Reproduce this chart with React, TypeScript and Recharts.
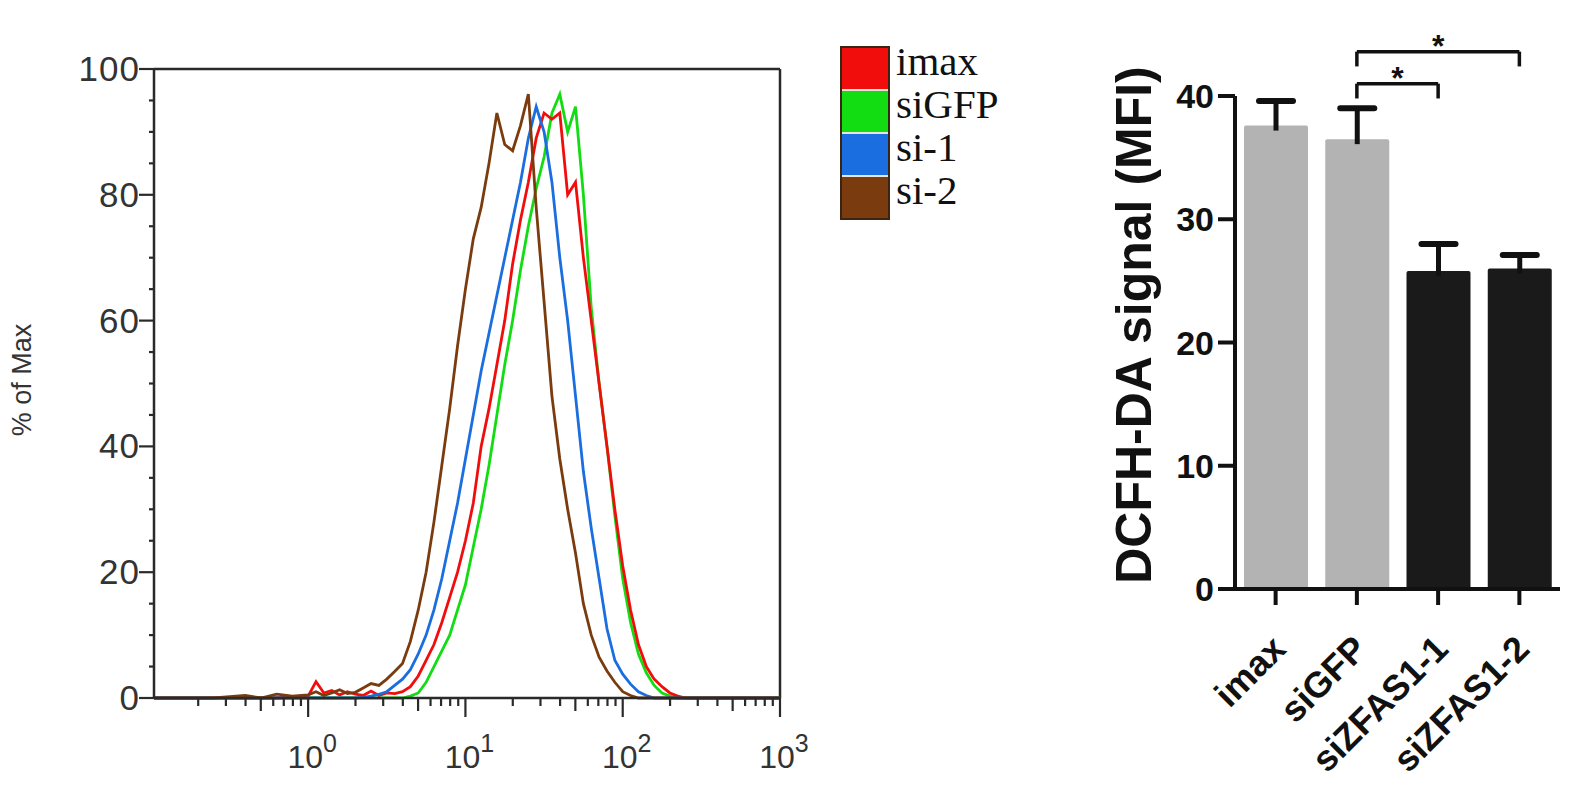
import React from "react";
import {
  Bar,
  BarChart,
  Cell,
  Legend,
  Line,
  LineChart,
  ReferenceLine,
  XAxis,
  YAxis,
} from "recharts";

// ---- flow cytometry histogram (log10 of fluorescence vs % of max) ----
const logBins = [
  -0.98, -0.6, -0.4, -0.3, -0.2, -0.1, 0.0, 0.05, 0.1, 0.15, 0.2, 0.25,
  0.3, 0.35, 0.4, 0.45, 0.5, 0.55, 0.6, 0.65, 0.7, 0.75,
  0.8, 0.85, 0.9, 0.95, 1.0, 1.05, 1.1, 1.15, 1.2, 1.25,
  1.3, 1.35, 1.4, 1.45, 1.5, 1.55, 1.6, 1.65, 1.7, 1.75,
  1.8, 1.85, 1.9, 1.95, 2.0, 2.05, 2.1, 2.15, 2.2, 2.25,
  2.3, 2.35, 2.4, 2.45, 2.5, 2.6, 2.8, 3.0,
];

const imaxHist = [
  0, 0, 0, 0, 0, 0.2, 0.3, 2.6, 0.8, 1.2, 0.5, 1.0,
  0.6, 0.4, 1.1, 0.4, 0.8, 0.7, 1.0, 1.8, 3.5, 6,
  8.5, 12, 16, 20, 25, 31, 40, 46, 53, 60,
  69, 76, 82, 89, 93, 92, 93, 80, 82, 70,
  60, 50, 40, 30, 21, 14, 8.5, 5, 3, 1.8,
  0.8, 0.3, 0, 0, 0, 0, 0, 0,
];

const siGfpHist = [
  0, 0, 0, 0, 0, 0, 0, 0, 0, 0, 0, 0,
  0, 0, 0, 0, 0, 0, 0, 0.3, 0.8, 2.5,
  5, 7.5, 10, 14, 18, 24, 30, 37, 45, 53,
  60, 68, 75, 81, 86, 93, 96, 90, 94, 80,
  62, 50, 40, 29, 19, 12, 7, 4, 2, 0.8,
  0.3, 0, 0, 0, 0, 0, 0, 0,
];

const si1Hist = [
  0, 0, 0, 0, 0, 0, 0, 0, 0, 0, 0, 0,
  0, 0.1, 0.3, 0.6, 1, 2, 3, 4.5, 7, 10,
  14, 19, 25, 31, 38, 45, 52, 58, 64, 70,
  76, 82, 89, 94, 90, 82, 70, 60, 48, 36,
  27, 19, 11, 6, 3.8, 2.2, 1.0, 0.4, 0, 0,
  0, 0, 0, 0, 0, 0, 0, 0,
];

const si2Hist = [
  0, 0, 0.4, 0, 0.6, 0.3, 0.5, 1.0, 0.4, 0.8, 1.3, 0.7,
  0.9, 1.6, 2.3, 2.0, 3.0, 4.2, 5.5, 9, 14, 20,
  28, 37, 46, 56, 65, 73, 78, 85, 93, 88,
  87, 91, 96, 78, 63, 48, 38, 30, 23, 15,
  10, 6.5, 4.3, 2.5, 1.0, 0.4, 0, 0, 0, 0,
  0, 0, 0, 0, 0, 0, 0, 0,
];

const histNames = ["imax", "siGFP", "si-1", "si-2"];
const decadeExponents = [0, 1, 2, 3];
const minorMultipliers = [2, 3, 4, 5, 6, 7, 8, 9];
const pctTicks = [0, 5, 10, 15, 20, 25, 30, 35, 40, 45, 50, 55, 60, 65, 70, 75, 80, 85, 90, 95, 100];

// ---- DCFH-DA bar chart ----
const groups = ["imax", "siGFP", "siZFAS1-1", "siZFAS1-2"];
const mfiMean = [37.6, 36.5, 25.8, 26.0];
const mfiSem = [2.0, 2.5, 2.2, 1.1];
const mfiTicks = [0, 10, 20, 30, 40];
const comparisons = [
  { from: "siGFP", to: "siZFAS1-1", level: 41.0, mark: "*" },
  { from: "siGFP", to: "siZFAS1-2", level: 43.6, mark: "*" },
];

const histColors = {
  imax: "#f20d0d",
  siGFP: "#12dc12",
  "si-1": "#1a6ee0",
  "si-2": "#7a3c0e",
};
const drawOrder = ["siGFP", "imax", "si-1", "si-2"];

const histValues = [imaxHist, siGfpHist, si1Hist, si2Hist];
const histData = logBins.map((lx, i) => {
  const row: Record<string, number> = { lx };
  histNames.forEach((n, k) => (row[n] = histValues[k][i]));
  return row;
});

const logTicks: number[] = [];
[-1, 0, 1, 2].forEach((d) => {
  minorMultipliers.forEach((m) => logTicks.push(d + Math.log10(m)));
});
decadeExponents.forEach((d) => logTicks.push(d));
const xTicks = logTicks.filter((t) => t >= -0.98).sort((a, b) => a - b);

const barData = groups.map((g, i) => ({ group: g, mean: mfiMean[i], sem: mfiSem[i] }));

const AXIS = "#2a2a2a";

function LogTick(props: any) {
  const { x, y, payload } = props;
  const v = payload.value;
  const dec = Math.round(v);
  const major = Math.abs(v - dec) < 1e-6;
  const frac = v - Math.floor(v + 1e-9);
  const isFive = Math.abs(frac - Math.log10(5)) < 1e-6;
  const len = major ? 19 : isFive ? 13 : 8;
  return (
    <g>
      <line x1={x} x2={x} y1={y} y2={y + len} stroke={AXIS} strokeWidth={2.2} />
      {major && decadeExponents.includes(dec) && (
        <text x={x + 4} y={y + 70} textAnchor="middle" fill="#333" fontSize={32}>
          10
          <tspan fontSize={25} dy={-16}>
            {dec}
          </tspan>
        </text>
      )}
    </g>
  );
}

function PctTick(props: any) {
  const { x, y, payload } = props;
  const v = payload.value;
  const major = v % 20 === 0;
  return (
    <g>
      <line x1={x - (major ? 15 : 5)} x2={x} y1={y} y2={y} stroke={AXIS} strokeWidth={2.2} />
      {major && (
        <text x={x - 14} y={y + 12} textAnchor="end" fill="#333" fontSize={35} letterSpacing={1}>
          {v}
        </text>
      )}
    </g>
  );
}

function HistLegend() {
  return (
    <div style={{ position: "relative", width: 220, height: 180 }}>
      <div
        style={{
          position: "absolute",
          left: 0,
          top: 0,
          width: 46,
          border: "2px solid #3b2412",
          background: "#e8e4d8",
        }}
      >
        {histNames.map((n, i) => (
          <div
            key={n}
            style={{
              height: 41,
              marginTop: i === 0 ? 0 : 2,
              background: histColors[n as keyof typeof histColors],
            }}
          />
        ))}
      </div>
      {histNames.map((n, i) => (
        <div
          key={n}
          style={{
            position: "absolute",
            left: 56,
            top: i * 43 - 6,
            height: 43,
            lineHeight: "43px",
            fontFamily: "'Liberation Serif', 'Times New Roman', serif",
            fontSize: 41,
            color: "#111",
            whiteSpace: "nowrap",
          }}
        >
          {n}
        </div>
      ))}
    </div>
  );
}

function BarWithError(props: any) {
  const { x, y, width, height, payload, fill } = props;
  const perUnit = height / payload.mean;
  const top = y - payload.sem * perUnit;
  const cx = x + width / 2;
  return (
    <g>
      <rect x={x} y={y} width={width} height={height} fill={fill} rx={2} />
      <line x1={cx} x2={cx} y1={y + 5} y2={top} stroke="#111" strokeWidth={5} />
      <line x1={cx - 17} x2={cx + 17} y1={top} y2={top} stroke="#111" strokeWidth={6} strokeLinecap="round" />
    </g>
  );
}

function GroupTick(props: any) {
  const { x, y, payload } = props;
  const ax = x + 12;
  const ay = y + 44;
  return (
    <text
      x={ax}
      y={ay}
      transform={`rotate(-45, ${ax}, ${ay})`}
      textAnchor="end"
      fontSize={36}
      fontWeight="bold"
      fill="#111"
    >
      {payload.value}
    </text>
  );
}

function StarLabel(props: any) {
  const { viewBox, value } = props;
  return (
    <text
      x={viewBox.x + viewBox.width / 2}
      y={viewBox.y + 5}
      textAnchor="middle"
      fontSize={32}
      fontWeight="bold"
      fill="#111"
    >
      {value}
    </text>
  );
}

export default function App() {
  return (
    <div
      style={{
        position: "absolute",
        left: 0,
        top: 0,
        width: 1594,
        height: 804,
        background: "#fff",
        fontFamily: "'Liberation Sans', Arial, sans-serif",
      }}
    >
      <div style={{ position: "absolute", left: 0, top: 0 }}>
        <LineChart
          width={1050}
          height={804}
          data={histData}
          margin={{ top: 69, right: 270, bottom: 76, left: 94 }}
        >
          <XAxis
            type="number"
            dataKey="lx"
            domain={[-0.98, 3]}
            ticks={xTicks}
            interval={0}
            tickSize={0}
            tickMargin={0}
            tick={<LogTick />}
            axisLine={{ stroke: AXIS, strokeWidth: 2.5 }}
            height={30}
            allowDataOverflow
          />
          <YAxis
            type="number"
            domain={[0, 100]}
            ticks={pctTicks}
            interval={0}
            tickSize={0}
            tickMargin={0}
            tick={<PctTick />}
            axisLine={{ stroke: AXIS, strokeWidth: 2.5 }}
            width={60}
            label={{
              content: () => (
                <text
                  x={31}
                  y={380}
                  transform="rotate(-90, 31, 380)"
                  textAnchor="middle"
                  fontSize={27}
                  fill="#333"
                >
                  % of Max
                </text>
              ),
            }}
          />
          <ReferenceLine y={100} stroke={AXIS} strokeWidth={2.5} />
          <ReferenceLine x={3} stroke={AXIS} strokeWidth={2.5} />
          {drawOrder.map((n) => (
            <Line
              key={n}
              type="linear"
              dataKey={n}
              stroke={histColors[n as keyof typeof histColors]}
              strokeWidth={2.8}
              dot={false}
              activeDot={false}
              isAnimationActive={false}
            />
          ))}
          <Legend
            layout="vertical"
            align="center"
            verticalAlign="middle"
            wrapperStyle={{ position: "absolute", left: 840, top: 46, width: 220, height: 180 }}
            content={() => <HistLegend />}
          />
        </LineChart>
      </div>

      <div style={{ position: "absolute", left: 1050, top: 0 }}>
        <BarChart
          width={544}
          height={804}
          data={barData}
          margin={{ top: 96, right: 34, bottom: 185, left: 105 }}
        >
          <XAxis
            dataKey="group"
            tickSize={16}
            tickMargin={2}
            interval={0}
            tickLine={{ stroke: "#111", strokeWidth: 4 }}
            axisLine={{ stroke: "#111", strokeWidth: 4 }}
            tick={<GroupTick />}
            height={30}
          />
          <YAxis
            domain={[0, 40]}
            ticks={mfiTicks}
            interval={0}
            tickSize={17}
            tickMargin={4}
            tickLine={{ stroke: "#111", strokeWidth: 4 }}
            axisLine={{ stroke: "#111", strokeWidth: 4 }}
            tick={{ fontSize: 34, fontWeight: "bold", fill: "#111" }}
            width={80}
            label={{
              content: () => (
                <text
                  x={101}
                  y={325}
                  transform="rotate(-90, 101, 325)"
                  textAnchor="middle"
                  fontSize={50}
                  fontWeight="bold"
                  fill="#111"
                >
                  DCFH-DA signal (MFI)
                </text>
              ),
            }}
          />
          <Bar dataKey="mean" barSize={64} shape={<BarWithError />} isAnimationActive={false}>
            {barData.map((d, i) => (
              <Cell key={d.group} fill={i < 2 ? "#b3b3b3" : "#1a1a1a"} />
            ))}
          </Bar>
          {comparisons.map((c) => (
            <ReferenceLine
              key={c.to}
              segment={[
                { x: c.from, y: c.level },
                { x: c.to, y: c.level },
              ]}
              stroke="#111"
              strokeWidth={3.5}
              ifOverflow="visible"
              label={<StarLabel value={c.mark} />}
            />
          ))}
          {comparisons.flatMap((c) =>
            [c.from, c.to].map((g) => (
              <ReferenceLine
                key={c.to + g}
                segment={[
                  { x: g, y: c.level },
                  { x: g, y: c.level - 1.2 },
                ]}
                stroke="#111"
                strokeWidth={3.5}
                ifOverflow="visible"
              />
            ))
          )}
        </BarChart>
      </div>
    </div>
  );
}
